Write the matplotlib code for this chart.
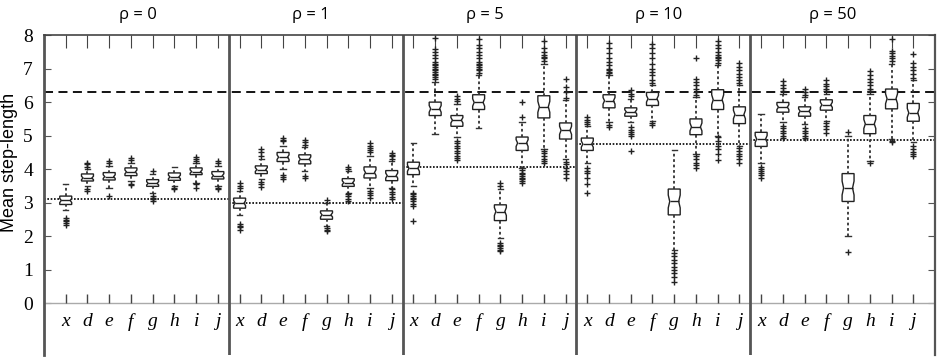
import numpy as np
import matplotlib.pyplot as plt

rho = [0, 1, 5, 10, 50]
labels = ['x', 'd', 'e', 'f', 'g', 'h', 'i', 'j']
ref_dashed = 6.3
ref_dotted = [3.1, 3.0, 4.08, 4.75, 4.88]

# box statistics per panel (rho), 8 boxes each
q1 = [[2.95, 3.65, 3.68, 3.81, 3.49, 3.67, 3.84, 3.71],
      [2.84, 3.87, 4.23, 4.16, 2.51, 3.49, 3.74, 3.66],
      [3.84, 5.60, 5.28, 5.78, 2.47, 4.56, 5.53, 4.90],
      [4.56, 5.83, 5.58, 5.90, 2.64, 5.03, 5.78, 5.36],
      [4.68, 5.70, 5.58, 5.76, 3.04, 5.06, 5.80, 5.43]]
med = [[3.07, 3.74, 3.78, 3.92, 3.58, 3.77, 3.93, 3.81],
       [2.99, 3.99, 4.36, 4.30, 2.64, 3.60, 3.90, 3.81],
       [4.03, 5.80, 5.46, 5.99, 2.74, 4.78, 5.86, 5.16],
       [4.75, 6.04, 5.71, 6.10, 3.04, 5.26, 6.07, 5.63],
       [4.90, 5.85, 5.73, 5.92, 3.44, 5.35, 6.10, 5.68]]
q3 = [[3.20, 3.86, 3.90, 4.04, 3.69, 3.89, 4.04, 3.93],
      [3.14, 4.10, 4.50, 4.43, 2.76, 3.72, 4.07, 3.96],
      [4.21, 6.00, 5.60, 6.22, 2.94, 4.96, 6.19, 5.38],
      [4.93, 6.22, 5.83, 6.29, 3.41, 5.50, 6.37, 5.86],
      [5.10, 5.99, 5.86, 6.07, 3.87, 5.60, 6.39, 5.96]]
whislo = [[2.80, 3.50, 3.45, 3.65, 3.30, 3.50, 3.60, 3.50],
          [2.65, 3.70, 4.00, 3.95, 2.30, 3.30, 3.45, 3.45],
          [3.50, 5.06, 4.95, 5.23, 1.95, 4.05, 4.60, 4.30],
          [4.20, 5.40, 5.40, 5.45, 1.60, 4.45, 5.00, 4.70],
          [4.20, 5.40, 5.35, 5.45, 2.00, 4.25, 4.90, 4.80]]
whishi = [[3.55, 4.00, 4.10, 4.20, 3.85, 4.08, 4.20, 4.10],
          [3.35, 4.30, 4.70, 4.65, 3.00, 3.95, 4.40, 4.25],
          [4.78, 6.60, 5.95, 6.80, 3.40, 5.40, 7.15, 6.05],
          [5.30, 6.80, 6.10, 6.50, 4.56, 6.15, 7.10, 6.50],
          [5.66, 6.25, 6.15, 6.25, 5.00, 6.25, 7.15, 6.65]]
fliers = [
    [[2.35, 2.4, 2.45, 2.5, 2.55],
     [4.08, 4.15, 4.2, 3.35, 3.4],
     [4.2, 4.25, 3.2],
     [4.28, 4.33, 3.52, 3.55],
     [3.95, 3.05, 3.1, 3.15, 3.2],
     [3.42, 3.45],
     [4.25, 4.3, 4.35, 3.55, 3.45],
     [4.2, 4.25, 3.42, 3.45]],
    [[3.45, 3.5, 3.58, 2.2, 2.27, 2.32, 2.38],
     [4.4, 4.5, 4.6, 3.47, 3.55, 3.62],
     [4.83, 4.88, 4.93, 3.72, 3.78, 3.84],
     [4.73, 4.8, 4.88, 3.74, 3.8],
     [3.09, 2.15, 2.2, 2.25],
     [4.02, 4.06, 3.05, 3.12, 3.2, 3.26],
     [4.5, 4.57, 4.63, 4.7, 4.78, 3.15, 3.22, 3.3, 3.35],
     [4.32, 4.38, 4.43, 4.48, 3.1, 3.17, 3.25, 3.33, 3.4]],
    [[3.3, 3.25, 3.2, 3.15, 3.1, 3.05, 2.95, 2.9, 2.47],
     [6.7, 6.75, 6.8, 6.85, 6.9, 6.95, 7.0, 7.05, 7.1, 7.15, 7.2, 7.3, 7.4, 7.5, 7.57, 7.92],
     [6.02, 6.1, 6.19, 4.85, 4.78, 4.7, 4.62, 4.55, 4.48, 4.4, 4.33, 4.28],
     [6.87, 6.95, 7.0, 7.05, 7.1, 7.15, 7.2, 7.3, 7.4, 7.5, 7.6, 7.7, 7.87],
     [3.5, 3.59, 1.55, 1.6, 1.65, 1.7, 1.75, 1.8],
     [5.56, 6.0, 3.6, 3.65, 3.7, 3.75, 3.8, 3.85, 3.9, 3.97],
     [7.22, 7.3, 7.35, 7.4, 7.5, 7.6, 7.82, 4.18, 4.25, 4.32, 4.4, 4.48, 4.53],
     [6.13, 6.3, 6.45, 6.69, 4.23, 4.15, 4.05, 3.95, 3.85, 3.74]],
    [[5.36, 5.42, 5.48, 5.56, 4.04, 3.95, 3.9, 3.75, 3.55, 3.29],
     [6.87, 6.9, 6.95, 7.0, 7.1, 7.2, 7.3, 7.45, 7.6, 7.77, 5.25, 5.32],
     [6.17, 6.25, 6.35, 5.25, 5.18, 5.1, 5.05, 4.98, 4.53],
     [6.57, 6.65, 6.8, 6.9, 7.0, 7.15, 7.3, 7.45, 7.6, 7.72, 5.33, 5.38],
     [1.5, 1.4, 1.3, 1.2, 1.1, 1.0, 0.9, 0.8, 0.65],
     [6.22, 6.3, 6.4, 6.5, 6.6, 6.69, 7.32, 4.38, 4.3, 4.2, 4.12, 4.04],
     [7.17, 7.25, 7.3, 7.35, 7.4, 7.5, 7.6, 7.7, 7.82, 4.96, 4.85, 4.7, 4.6, 4.45, 4.28],
     [6.57, 6.65, 6.75, 6.85, 6.95, 7.05, 7.17, 4.63, 4.55, 4.45, 4.4, 4.3, 4.18]],
    [[4.08, 4.0, 3.95, 3.9, 3.82, 3.74],
     [6.32, 6.42, 6.5, 6.62, 5.3, 5.22, 5.15, 5.08, 5.0, 4.93],
     [6.22, 6.3, 6.39, 5.23, 5.15, 5.08, 5.0, 4.93],
     [6.32, 6.4, 6.48, 6.55, 6.67, 5.38, 5.3, 5.2, 5.08],
     [5.1, 1.52],
     [6.32, 6.4, 6.5, 6.6, 6.7, 6.8, 6.92, 4.2],
     [7.22, 7.3, 7.38, 7.45, 7.52, 7.89, 4.85, 4.8],
     [6.72, 6.85, 6.95, 7.05, 7.17, 7.42, 4.68, 4.6, 4.5, 4.45, 4.38]],
]

box_w = 0.55
notch_depth = 0.75  # fraction of half-width kept at the median

stats = []
positions = []
for k in range(len(rho)):
    for j in range(len(labels)):
        iqr = q3[k][j] - q1[k][j]
        stats.append(dict(med=med[k][j], q1=q1[k][j], q3=q3[k][j],
                          whislo=whislo[k][j], whishi=whishi[k][j],
                          fliers=fliers[k][j],
                          cilo=med[k][j] - 0.25 * iqr, cihi=med[k][j] + 0.25 * iqr))
        positions.append(8 * k + j + 1)
positions = np.array(positions)

fig = plt.figure(figsize=(9.39, 3.62), dpi=100)
ax = fig.add_axes([44 / 939, 7 / 362, 891 / 939, 320 / 362])

out = ax.bxp(stats, positions=positions, widths=box_w, capwidths=0.25, shownotches=True,
             patch_artist=True,
             boxprops=dict(facecolor='white', edgecolor='#222222', linewidth=1),
             medianprops=dict(color='#222222', linewidth=1),
             whiskerprops=dict(color='#333333', linestyle=(0, (1.5, 1.5)), linewidth=1.3),
             capprops=dict(color='#333333', linewidth=1),
             flierprops=dict(marker='+', markersize=5, markeredgecolor='#222222',
                             markeredgewidth=1, linestyle='none'))

# make the notches shallow like the original
half = box_w / 2 * notch_depth
for box, mline, s, p in zip(out['boxes'], out['medians'], stats, positions):
    path = box.get_path()
    verts = path.vertices.copy()
    m = np.isclose(verts[:, 1], s['med'])
    verts[m, 0] = p + np.sign(verts[m, 0] - p) * half
    path.vertices = verts
    mline.set_xdata([p - half, p + half])

ax.set_xlim(0, 41)
ax.set_ylim(-1.535, 8)

# reference lines
ax.axhline(ref_dashed, color='black', linestyle=(0, (5, 3)), linewidth=1.3, zorder=1)
for k, yv in enumerate(ref_dotted):
    x0 = 0 if k == 0 else 8 * k + 0.5
    x1 = 41 if k == len(rho) - 1 else 8 * k + 8.5
    ax.hlines(yv, x0, x1, color='black', linestyle=(0, (1, 1)), linewidth=1.2, zorder=1)

ax.axhline(0, color='#aaaaaa', linewidth=1)
for k in range(1, len(rho)):
    ax.axvline(8 * k + 0.5, color='#555555', linewidth=2)

# ticks
ax.set_yticks(range(9))
ax.set_yticklabels([str(v) for v in range(9)], family='Liberation Serif', fontsize=14)
ax.tick_params(axis='y', direction='in', length=5, left=True, right=True,
               color='#555555', pad=8)
ax.set_xticks(positions)
ax.tick_params(axis='x', direction='in', length=9, top=True, bottom=False,
               labelbottom=False, color='#444444')
ax.vlines(positions, 0, 0.27, color='#444444', linewidth=1)

for s in ['left', 'right']:
    ax.spines[s].set_color('#555555')
ax.spines['left'].set_linewidth(2)
ax.spines['right'].set_linewidth(1.6)
ax.spines['top'].set_color('#444444')
ax.spines['top'].set_linewidth(1.2)
ax.spines['bottom'].set_visible(False)

for p, lab in zip(positions, labels * len(rho)):
    ax.text(p, -0.55, lab, family='Liberation Serif', style='italic', fontsize=14,
            ha='center', va='center')

for k, r in enumerate(rho):
    ax.text(8 * k + 4.3, 8.6, f'ρ = {r}', family='Open Sans', fontsize=12,
            ha='center', va='center', clip_on=False)

fig.text(1 / 939, 0.552, 'Mean step-length', rotation=90, ha='left', va='center',
         family='Liberation Sans', fontsize=13)

fig.savefig('out.png', dpi=100)
